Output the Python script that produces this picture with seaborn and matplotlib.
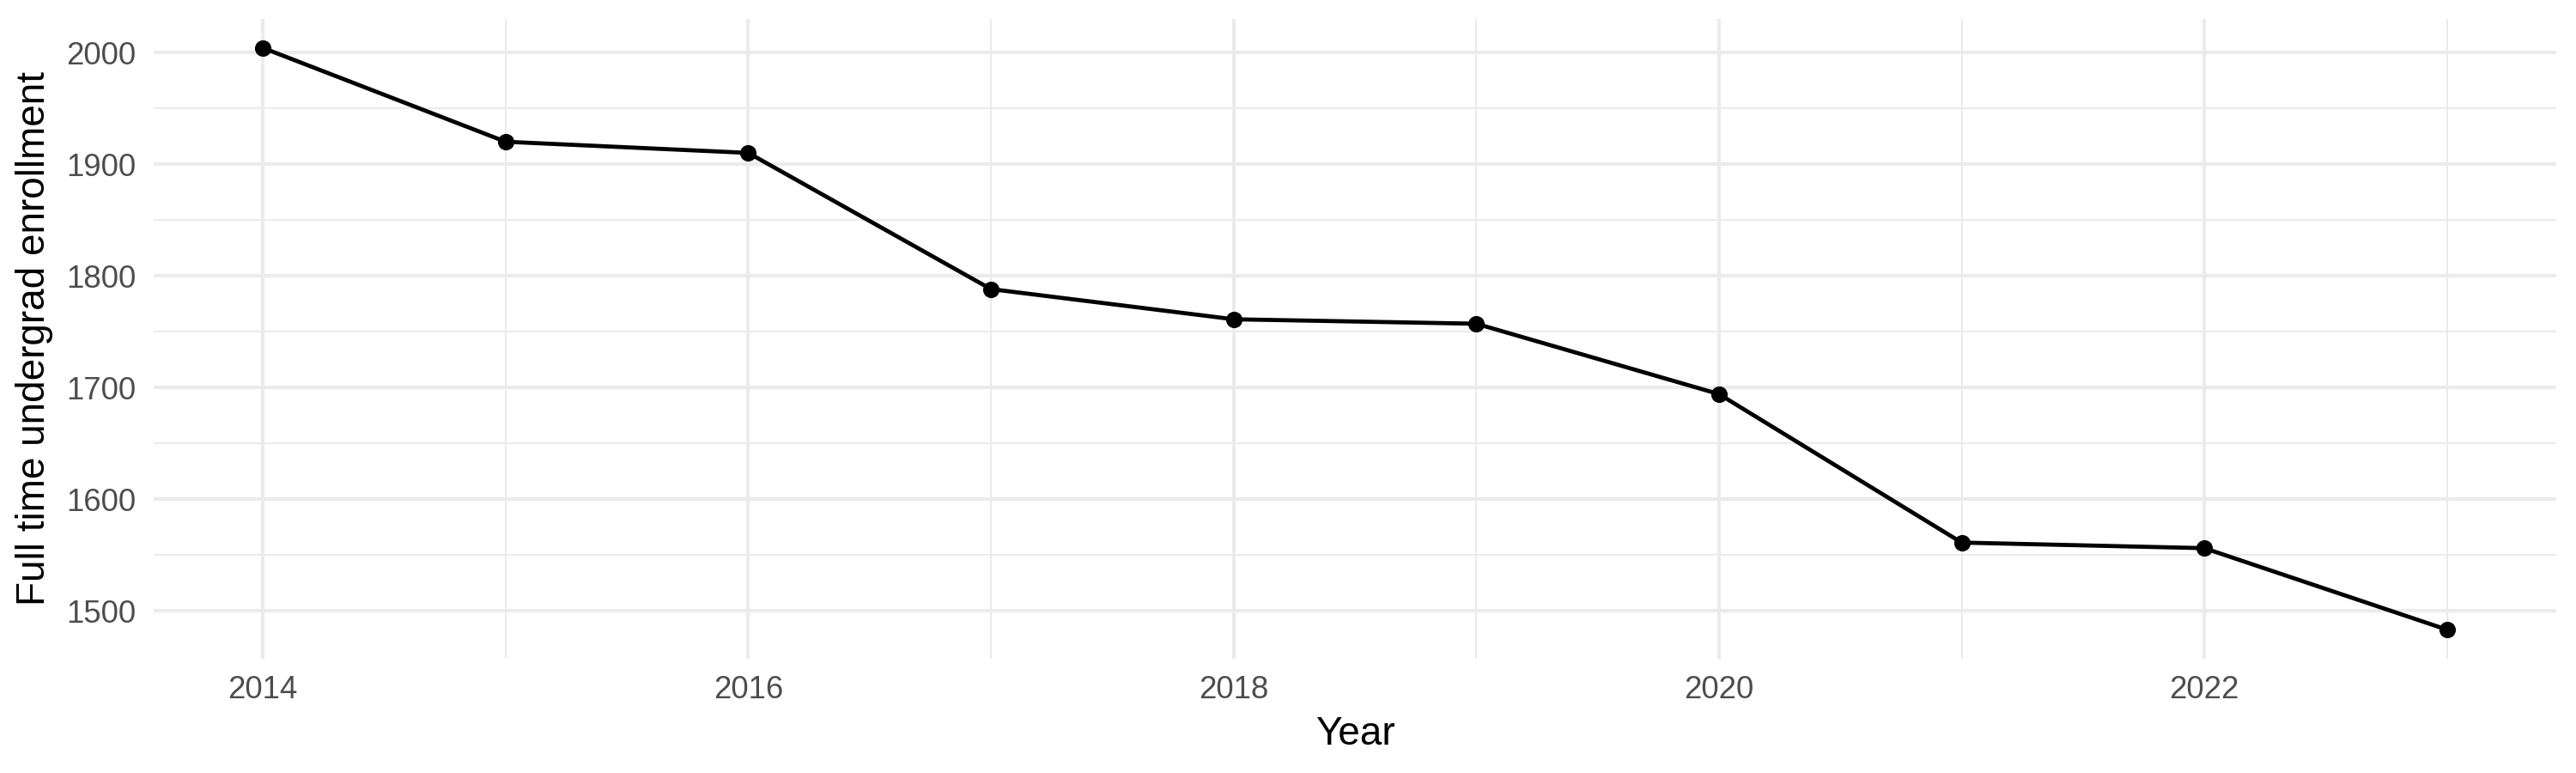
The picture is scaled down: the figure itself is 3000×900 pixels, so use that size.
import matplotlib
matplotlib.use("Agg")
import matplotlib.pyplot as plt
from matplotlib.ticker import MultipleLocator
import seaborn as sns
import pandas as pd

years = [2014, 2015, 2016, 2017, 2018, 2019, 2020, 2021, 2022, 2023]
enrollment = [2004, 1920, 1910, 1788, 1761, 1757, 1694, 1561, 1556, 1483]

df = pd.DataFrame({"Year": years, "Enrollment": enrollment})

sns.set_theme(style="white")
plt.rcParams['font.family'] = ['Liberation Sans', 'DejaVu Sans']

fig, ax = plt.subplots(figsize=(10, 3), dpi=300)
fig.subplots_adjust(left=0.0597, right=0.9923, top=0.9756, bottom=0.1478)

sns.lineplot(data=df, x="Year", y="Enrollment", color="black", linewidth=1.15,
             marker="o", markersize=4.6, markeredgewidth=0, ax=ax, zorder=3)

# ggplot-like 5% expansion
span_x = max(years) - min(years)
span_y = max(enrollment) - min(enrollment)
ax.set_xlim(min(years) - 0.05 * span_x, max(years) + 0.05 * span_x)
ax.set_ylim(min(enrollment) - 0.05 * span_y, max(enrollment) + 0.05 * span_y)

ax.xaxis.set_major_locator(MultipleLocator(2))
ax.xaxis.set_minor_locator(MultipleLocator(1))
ax.yaxis.set_major_locator(MultipleLocator(100))
ax.yaxis.set_minor_locator(MultipleLocator(50))

ax.grid(which="major", color="#EBEBEB", linewidth=1.0)
ax.grid(which="minor", color="#EBEBEB", linewidth=0.5)
ax.set_axisbelow(True)

for s in ax.spines.values():
    s.set_visible(False)
ax.tick_params(which="both", length=0, labelsize=8.8, labelcolor="#4D4D4D")
ax.tick_params(axis="y", pad=5)
ax.tick_params(axis="x", pad=4.5)

ax.set_xlabel("Year", fontsize=11, color="black", labelpad=3)
ax.set_ylabel("Full time undergrad enrollment", fontsize=11, color="black", labelpad=3.5)

fig.savefig("out.png", dpi=300)
